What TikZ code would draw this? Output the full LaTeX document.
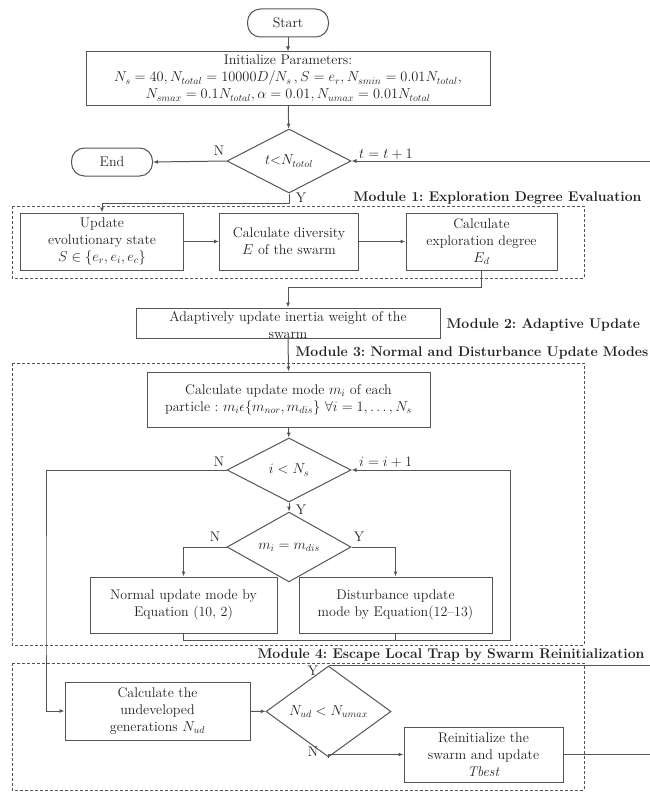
\documentclass[tikz,border=0pt]{standalone}
\usepackage{amsmath,amssymb}
\usetikzlibrary{shapes.geometric,arrows.meta}

\definecolor{linegray}{HTML}{555555}
\definecolor{textgray}{HTML}{222222}

\tikzset{
  every node/.style={font=\fontsize{14}{17}\selectfont, text=textgray},
  flowbox/.style={draw=linegray, line width=1pt, align=center, inner sep=0pt},
  termbox/.style={draw=linegray, line width=1pt, rounded corners=13pt, inner sep=0pt,
    minimum width=81, minimum height=28},
  decbox/.style={diamond, draw=linegray, line width=1pt, inner sep=0pt,
    minimum width=124, minimum height=64},
  modframe/.style={draw=linegray, line width=0.7pt, dash pattern=on 3pt off 2pt},
  modlabel/.style={font=\fontsize{14}{17}\selectfont\bfseries},
  flowline/.style={draw=linegray, line width=1pt},
  flowarrow/.style={flowline, -{Latex[length=5pt,width=4pt]}},
}
\frenchspacing

\begin{document}
\begin{tikzpicture}[x=1pt,y=-1pt]
  \useasboundingbox (0,0) rectangle (649,792);

  % module frames
  \draw[modframe] (12,206) rectangle (584,278);
  \draw[modframe] (12,363) rectangle (584,645);
  \draw[modframe] (12,663) rectangle (584,790);
  \node[modlabel, anchor=east] (mod1) at (645,198) {Module 1: Exploration Degree Evaluation};
  \node[modlabel, anchor=west] (mod2) at (443,325) {Module 2: Adaptive Update};
  \node[modlabel, anchor=west] (mod3) at (292,353) {Module 3: Normal and Disturbance Update Modes};
  \node[modlabel, anchor=east] (mod4) at (648,655) {Module 4: Escape Local Trap by Swarm Reinitialization};

  % main flow
  \node[termbox] (start) at (288,23) {Start};
  \node[flowbox, minimum width=404, minimum height=53] (init) at (288,78.5)
    {Initialize Parameters:\\
     $N_s = 40, N_{total} = 10000D/N_s\,, S = e_r, N_{smin} = 0.01N_{total},$\\
     $N_{smax} = 0.1N_{total}, \alpha = 0.01, N_{umax} = 0.01N_{total}$};
  \node[decbox] (loopt) at (289,161) {$t{<}N_{totol}$};
  \node[termbox] (end) at (112,162) {End};

  % module 1
  \node[flowbox, minimum width=163, minimum height=57] (state) at (102,241.5)
    {Update\\ evolutionary state\\ $S \in \{e_r, e_i, e_c\}$};
  \node[flowbox, minimum width=139, minimum height=57] (divers) at (289,241.5)
    {Calculate diversity\\ $E$ of the swarm};
  \node[flowbox, minimum width=151, minimum height=57] (explor) at (481.5,241.5)
    {Calculate\\ exploration degree\\ $E_d$};

  % module 2
  \node[flowbox, minimum width=304, minimum height=30] (adapt) at (288,323) {};
  \node[align=center] (adapttxt) at (288,325) {Adaptively update inertia weight of the\\ swarm};

  % module 3
  \node[flowbox, minimum width=283, minimum height=55] (mode) at (288.5,399.5)
    {Calculate update mode $m_i$ of each\\
     particle : $m_i \epsilon \{m_{nor}, m_{dis}\}$ $\forall i = 1, \dots, N_s$};
  \node[decbox] (loopi) at (289,470) {$i < N_s$};
  \node[decbox, minimum height=63] (choose) at (289,547) {$m_i = m_{dis}$};
  \node[flowbox, minimum width=187, minimum height=56] (normal) at (183.5,605)
    {Normal update mode by\\ Equation (10, 2)};
  \node[flowbox, minimum width=193, minimum height=56] (disturb) at (395.5,605)
    {Disturbance update\\ mode by Equation(12--13)};

  % module 4
  \node[flowbox, minimum width=185, minimum height=58] (undev) at (157.5,711)
    {Calculate the\\ undeveloped\\ generations $N_{ud}$};
  \node[decbox, minimum width=125, minimum height=63] (trap) at (328.5,711.5)
    {$N_{ud} < N_{umax}$};
  \node[flowbox, minimum width=159, minimum height=55] (reinit) at (483.5,754.5)
    {Reinitialize the\\ swarm and update\\ \textit{Tbest}};

  % branch labels
  \node (tno) at (219,151) {N};
  \node (tyes) at (301,198) {Y};
  \node[anchor=south west, inner sep=1pt] (tinc) at (358,161) {$t = t + 1$};
  \node (ino) at (219,462) {N};
  \node (iyes) at (301,510) {Y};
  \node[anchor=south west, inner sep=1pt] (iinc) at (358,469) {$i = i + 1$};
  \node (mno) at (215,537) {N};
  \node (myes) at (359,537) {Y};
  \node (nyes) at (313,671) {Y};
  \node (nno) at (313,752) {N};

  % helper points
  \coordinate (rtop) at (653,161);
  \coordinate (rmid) at (653,680);
  \coordinate (rbot) at (653,754.5);
  \coordinate (ireturn) at (510,640);
  \coordinate (ileft) at (46,600);

  % connectors
  \draw[flowarrow] (start) -- (init);
  \draw[flowarrow] (init) -- (loopt);
  \draw[flowarrow] (loopt.west) -- (end.east);
  \draw[flowarrow] (loopt.south) -- ++(0,10) -| (state.north);
  \draw[flowarrow] (state) -- (divers);
  \draw[flowarrow] (divers) -- (explor);
  \draw[flowarrow] (explor.south) -- ++(0,17) -| (adapt.north);
  \draw[flowarrow] (adapt.south) -- (mode.north);
  \draw[flowarrow] (mode) -- (loopi);
  \draw[flowarrow] (loopi) -- (choose);
  \draw[flowarrow] (choose.west) -| (normal.north);
  \draw[flowarrow] (choose.east) -| (disturb.north);
  \draw[flowarrow] (normal.south) |- (ireturn) |- (loopi.east);
  \draw[flowline] (disturb.south) -- (disturb.south |- ireturn);
  \draw[flowarrow] (loopi.west) -| (ileft) |- (undev.west);
  \draw[flowarrow] (undev) -- (trap);
  \draw[flowarrow] (trap.south) |- (reinit.west);
  \draw[flowline] (trap.north) -- (trap.north -| rmid);
  \draw[flowarrow] (reinit.east) -- (rbot) -- (rtop) -- (loopt.east);
\end{tikzpicture}
\end{document}
